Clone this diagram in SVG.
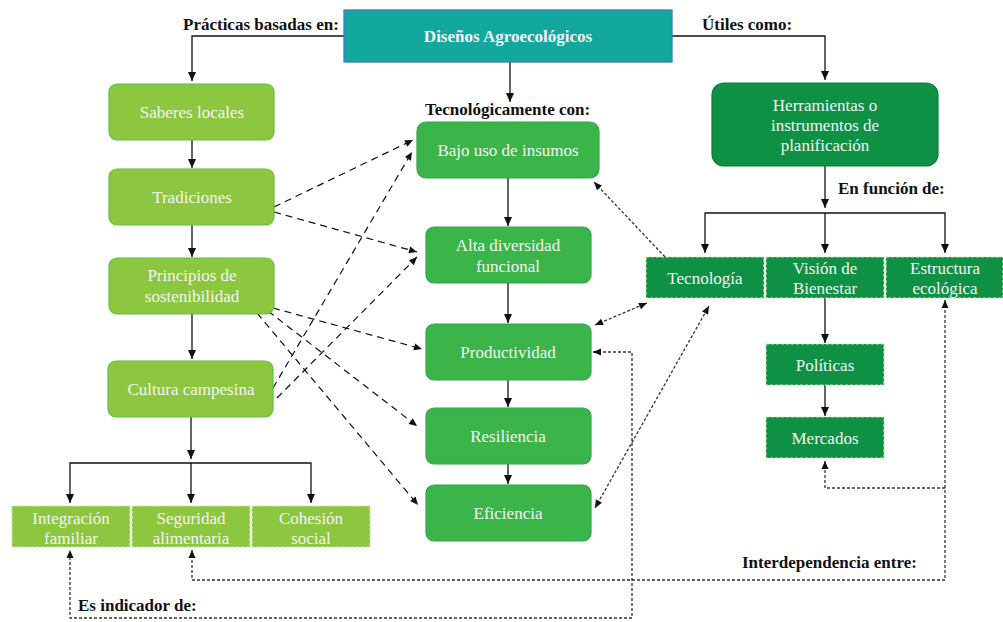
<svg xmlns="http://www.w3.org/2000/svg" width="1003" height="622" viewBox="0 0 1003 622">
<style>
.t{font-family:"Liberation Serif","DejaVu Serif",serif;font-size:17px;fill:#f4f4f4;text-anchor:middle}
.b{font-family:"Liberation Serif","DejaVu Serif",serif;font-size:17px;font-weight:bold;fill:#111}
.lg{fill:#8dc63f;stroke:#5fbf4a;stroke-width:1.2}
.lgd{fill:#8dc63f;stroke:#c8eab0;stroke-width:1.2;stroke-dasharray:3 2}
.mg{fill:#3bb54a;stroke:#2ea84a;stroke-width:1.2}
.dg{fill:#0e9145;stroke:#0a7a3a;stroke-width:1.2}
.dgd{fill:#0e9145;stroke:#c8eab0;stroke-width:1.2;stroke-dasharray:3 2}
.s{fill:none;stroke:#111;stroke-width:1.3}
.d{fill:none;stroke:#111;stroke-width:1.2;stroke-dasharray:7 5}
.p{fill:none;stroke:#333;stroke-width:1.3;stroke-dasharray:3 2}
</style>
<defs>
<marker id="a" markerUnits="userSpaceOnUse" markerWidth="10" markerHeight="10" refX="9" refY="5" orient="auto-start-reverse">
<path d="M0,1 L9,5 L0,9 z" fill="#111"/>
</marker>
<marker id="a2" markerUnits="userSpaceOnUse" markerWidth="10" markerHeight="10" refX="9" refY="5" orient="auto-start-reverse">
<path d="M1,1.5 L9,5 L1,8.5 z" fill="#111"/>
</marker>
</defs>
<rect width="1003" height="622" fill="#fff"/>
<g id="connectors">
<path class="s" d="M344,36 H192 V81" marker-end="url(#a)"/>
<path class="s" d="M672,36 H825 V80" marker-end="url(#a)"/>
<path class="s" d="M510,62 V102" marker-end="url(#a)"/>
<path class="s" d="M192,140 V168" marker-end="url(#a)"/>
<path class="s" d="M192,225 V257" marker-end="url(#a)"/>
<path class="s" d="M192,314 V359" marker-end="url(#a)"/>
<path class="s" d="M191,417 V459" marker-end="url(#a)"/>
<path class="s" d="M70,503 V463 H311 V503" marker-end="url(#a)" marker-start="url(#a)"/>
<path class="s" d="M191,463 V503" marker-end="url(#a)"/>
<path class="s" d="M508,178 V226" marker-end="url(#a)"/>
<path class="s" d="M508,283 V323" marker-end="url(#a)"/>
<path class="s" d="M508,380 V407" marker-end="url(#a)"/>
<path class="s" d="M508,464 V484" marker-end="url(#a)"/>
<path class="s" d="M825,166 V208" marker-end="url(#a)"/>
<path class="s" d="M705,253 V213 H945 V253" marker-end="url(#a)" marker-start="url(#a)"/>
<path class="s" d="M825,213 V253" marker-end="url(#a)"/>
<path class="s" d="M825,298 V343" marker-end="url(#a)"/>
<path class="s" d="M825,385 V416" marker-end="url(#a)"/>
<path class="d" d="M274,207 L413,140" marker-end="url(#a2)"/>
<path class="d" d="M274,212 L417,252" marker-end="url(#a2)"/>
<path class="d" d="M273,308 L422,349" marker-end="url(#a2)"/>
<path class="d" d="M268,311 L417,426" marker-end="url(#a2)"/>
<path class="d" d="M257,313 L418,505" marker-end="url(#a2)"/>
<path class="d" d="M273,388 L412,152" marker-end="url(#a2)"/>
<path class="d" d="M277,398 L417,257" marker-end="url(#a2)"/>
<path class="p" d="M665,257 L594,182" marker-end="url(#a2)"/>
<path class="p" d="M595,325 L647,303" marker-end="url(#a2)" marker-start="url(#a2)"/>
<path class="p" d="M595,508 L709,306" marker-end="url(#a2)" marker-start="url(#a2)"/>
<path class="p" d="M593,352 H632 V618 H70 V550" marker-end="url(#a2)" marker-start="url(#a2)"/>
<path class="p" d="M192,550 V580 H945 V300" marker-end="url(#a2)" marker-start="url(#a2)"/>
<path class="p" d="M945,488 H825 V461" marker-end="url(#a2)"/>
</g>
<g id="labels">
<text class="b" x="183" y="30">Prácticas basadas en:</text>
<text class="b" x="702" y="30">Útiles como:</text>
<text class="b" x="425" y="115">Tecnológicamente con:</text>
<text class="b" x="838" y="194">En función de:</text>
<text class="b" x="742" y="568">Interdependencia entre:</text>
<text class="b" x="78" y="611">Es indicador de:</text>
</g>
<g id="n-disenos">
<rect x="344" y="10" width="328" height="52" fill="#13a89e" stroke="#3a7ab8" stroke-width="1.3"/>
<text class="t" x="508" y="42" style="font-weight:bold">Diseños Agroecológicos</text>
</g>
<g id="n-saberes"><rect class="lg" x="109" y="84" width="165" height="56" rx="8"/><text class="t" x="192" y="118">Saberes locales</text></g>
<g id="n-tradiciones"><rect class="lg" x="109" y="169" width="165" height="56" rx="8"/><text class="t" x="192" y="203">Tradiciones</text></g>
<g id="n-principios"><rect class="lg" x="109" y="258" width="165" height="56" rx="8"/><text class="t" x="192" y="281">Principios de</text><text class="t" x="192" y="302">sostenibilidad</text></g>
<g id="n-cultura"><rect class="lg" x="108" y="361" width="165" height="56" rx="8"/><text class="t" x="191" y="395">Cultura campesina</text></g>
<g id="n-integracion"><rect class="lgd" x="12" y="506" width="118" height="41"/><text class="t" x="71" y="524">Integración</text><text class="t" x="71" y="544">familiar</text></g>
<g id="n-seguridad"><rect class="lgd" x="132" y="506" width="118" height="41"/><text class="t" x="191" y="524">Seguridad</text><text class="t" x="191" y="544">alimentaria</text></g>
<g id="n-cohesion"><rect class="lgd" x="252" y="506" width="118" height="41"/><text class="t" x="311" y="524">Cohesión</text><text class="t" x="311" y="544">social</text></g>
<g id="n-bajo"><rect class="mg" x="417" y="122" width="182" height="56" rx="9"/><text class="t" x="508" y="156">Bajo uso de insumos</text></g>
<g id="n-alta"><rect class="mg" x="426" y="227" width="165" height="56" rx="8"/><text class="t" x="508" y="251">Alta diversidad</text><text class="t" x="508" y="272">funcional</text></g>
<g id="n-productividad"><rect class="mg" x="426" y="324" width="165" height="56" rx="8"/><text class="t" x="508" y="358">Productividad</text></g>
<g id="n-resiliencia"><rect class="mg" x="426" y="408" width="165" height="56" rx="8"/><text class="t" x="508" y="442">Resiliencia</text></g>
<g id="n-eficiencia"><rect class="mg" x="426" y="485" width="165" height="56" rx="8"/><text class="t" x="508" y="519">Eficiencia</text></g>
<g id="n-herramientas"><rect class="dg" x="712" y="83" width="226" height="83" rx="12"/><text class="t" x="825" y="111">Herramientas o</text><text class="t" x="825" y="131">instrumentos de</text><text class="t" x="825" y="151">planificación</text></g>
<g id="n-tecnologia"><rect class="dgd" x="646" y="257" width="118" height="41"/><text class="t" x="705" y="284">Tecnología</text></g>
<g id="n-vision"><rect class="dgd" x="766" y="257" width="118" height="41"/><text class="t" x="825" y="274">Visión de</text><text class="t" x="825" y="294">Bienestar</text></g>
<g id="n-estructura"><rect class="dgd" x="886" y="257" width="117" height="41"/><text class="t" x="945" y="274">Estructura</text><text class="t" x="945" y="294">ecológica</text></g>
<g id="n-politicas"><rect class="dgd" x="766" y="344" width="118" height="41"/><text class="t" x="825" y="371">Políticas</text></g>
<g id="n-mercados"><rect class="dgd" x="766" y="417" width="118" height="41"/><text class="t" x="825" y="444">Mercados</text></g>
</svg>
